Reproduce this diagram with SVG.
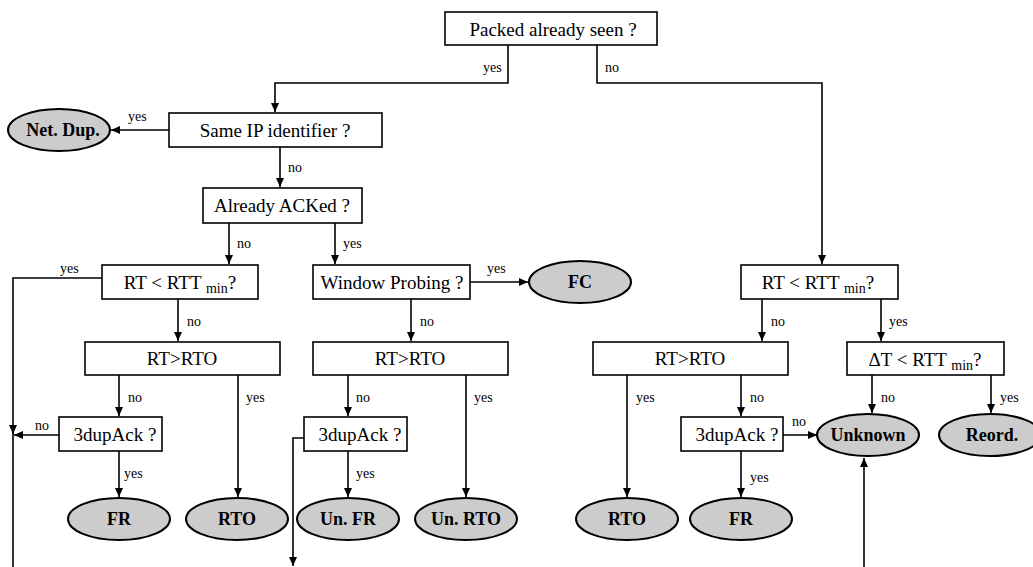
<svg xmlns="http://www.w3.org/2000/svg" width="1033" height="567" viewBox="0 0 1033 567">
<style>
.box{fill:#fff;stroke:#000;stroke-width:1.6}
.term{fill:#cccccc;stroke:#000;stroke-width:2}
.bt{font-family:"Liberation Serif",serif;font-size:19px;text-anchor:middle}
.tt{font-family:"Liberation Serif",serif;font-size:18px;font-weight:bold;text-anchor:middle}
.lbl{font-family:"Liberation Serif",serif;font-size:14px}
.c{fill:none;stroke:#000;stroke-width:1.6}
</style>
<defs>
<marker id="ah" markerUnits="userSpaceOnUse" markerWidth="10" markerHeight="8" refX="9" refY="4" orient="auto">
<path d="M0,0 L9,4 L0,8 z" fill="#000"/>
</marker>
</defs>
<rect width="1033" height="567" fill="#fff"/>
<g id="connectors">
<polyline class="c" points="508,45 508,83 275,83 275,112" marker-end="url(#ah)"/>
<polyline class="c" points="597,45 597,83 822,83 822,264" marker-end="url(#ah)"/>
<line class="c" x1="169" y1="130" x2="111" y2="130" marker-end="url(#ah)"/>
<line class="c" x1="280" y1="147" x2="280" y2="187" marker-end="url(#ah)"/>
<line class="c" x1="229" y1="223" x2="229" y2="264" marker-end="url(#ah)"/>
<line class="c" x1="335" y1="223" x2="335" y2="264" marker-end="url(#ah)"/>
<polyline class="c" points="102,278 13,278 13,434" marker-end="url(#ah)"/>
<line class="c" x1="13" y1="432" x2="13" y2="567"/>
<line class="c" x1="178" y1="299" x2="178" y2="341" marker-end="url(#ah)"/>
<line class="c" x1="119" y1="375" x2="119" y2="416" marker-end="url(#ah)"/>
<line class="c" x1="238" y1="375" x2="238" y2="497" marker-end="url(#ah)"/>
<line class="c" x1="59" y1="435" x2="14" y2="435" marker-end="url(#ah)"/>
<line class="c" x1="119" y1="451" x2="119" y2="497" marker-end="url(#ah)"/>
<line class="c" x1="470" y1="282" x2="528" y2="282" marker-end="url(#ah)"/>
<line class="c" x1="411" y1="299" x2="411" y2="341" marker-end="url(#ah)"/>
<line class="c" x1="348" y1="375" x2="348" y2="416" marker-end="url(#ah)"/>
<line class="c" x1="466" y1="375" x2="466" y2="497" marker-end="url(#ah)"/>
<line class="c" x1="348" y1="451" x2="348" y2="497" marker-end="url(#ah)"/>
<polyline class="c" points="304,438 293,438 293,566" marker-end="url(#ah)"/>
<line class="c" x1="762" y1="299" x2="762" y2="341" marker-end="url(#ah)"/>
<line class="c" x1="881" y1="299" x2="881" y2="341" marker-end="url(#ah)"/>
<line class="c" x1="627" y1="375" x2="627" y2="497" marker-end="url(#ah)"/>
<line class="c" x1="741" y1="375" x2="741" y2="416" marker-end="url(#ah)"/>
<line class="c" x1="783" y1="435" x2="817" y2="435" marker-end="url(#ah)"/>
<line class="c" x1="741" y1="451" x2="741" y2="497" marker-end="url(#ah)"/>
<line class="c" x1="872" y1="375" x2="872" y2="413" marker-end="url(#ah)"/>
<line class="c" x1="991" y1="375" x2="991" y2="413" marker-end="url(#ah)"/>
<line class="c" x1="864" y1="567" x2="864" y2="458" marker-end="url(#ah)"/>
<text class="lbl" x="483" y="72">yes</text>
<text class="lbl" x="605" y="72">no</text>
<text class="lbl" x="128" y="121">yes</text>
<text class="lbl" x="288" y="172">no</text>
<text class="lbl" x="237" y="248">no</text>
<text class="lbl" x="343" y="248">yes</text>
<text class="lbl" x="60" y="273">yes</text>
<text class="lbl" x="187" y="326">no</text>
<text class="lbl" x="128" y="402">no</text>
<text class="lbl" x="246" y="402">yes</text>
<text class="lbl" x="35" y="430">no</text>
<text class="lbl" x="124" y="478">yes</text>
<text class="lbl" x="487" y="273">yes</text>
<text class="lbl" x="420" y="326">no</text>
<text class="lbl" x="356" y="402">no</text>
<text class="lbl" x="474" y="402">yes</text>
<text class="lbl" x="356" y="478">yes</text>
<text class="lbl" x="771" y="326">no</text>
<text class="lbl" x="889" y="326">yes</text>
<text class="lbl" x="636" y="402">yes</text>
<text class="lbl" x="750" y="402">no</text>
<text class="lbl" x="792" y="426">no</text>
<text class="lbl" x="750" y="482">yes</text>
<text class="lbl" x="881" y="402">no</text>
<text class="lbl" x="1000" y="402">yes</text>
</g>
<g id="n_seen"><rect class="box" x="445" y="12" width="212" height="33"/><text class="bt" x="553" y="36">Packed already seen ?</text></g>
<g id="n_sameip"><rect class="box" x="169" y="113" width="213" height="34"/><text class="bt" x="275" y="137">Same IP identifier ?</text></g>
<g id="n_netdup"><ellipse class="term" cx="59" cy="130" rx="51" ry="21"/><text class="tt" x="63" y="136">Net. Dup.</text></g>
<g id="n_acked"><rect class="box" x="203" y="188" width="159" height="35"/><text class="bt" x="282" y="212">Already ACKed ?</text></g>
<g id="n_rtt1"><rect class="box" x="102" y="265" width="156" height="34"/><text class="bt" x="180" y="289">RT &lt; RTT <tspan font-size="14" dy="4">min</tspan><tspan dy="-4">?</tspan></text></g>
<g id="n_wp"><rect class="box" x="313" y="265" width="157" height="34"/><text class="bt" x="392" y="289">Window Probing ?</text></g>
<g id="n_fc"><ellipse class="term" cx="580" cy="282" rx="51" ry="21"/><text class="tt" x="580" y="288">FC</text></g>
<g id="n_rto1"><rect class="box" x="85" y="342" width="195" height="33"/><text class="bt" x="182" y="365">RT&gt;RTO</text></g>
<g id="n_rto2"><rect class="box" x="313" y="342" width="195" height="33"/><text class="bt" x="410" y="365">RT&gt;RTO</text></g>
<g id="n_dup1"><rect class="box" x="59" y="417" width="103" height="34"/><text class="bt" x="115" y="441">3dupAck ?</text></g>
<g id="n_dup2"><rect class="box" x="304" y="417" width="103" height="34"/><text class="bt" x="360" y="441">3dupAck ?</text></g>
<g id="n_fr1"><ellipse class="term" cx="119" cy="519" rx="51" ry="21"/><text class="tt" x="119" y="525">FR</text></g>
<g id="n_rtoA"><ellipse class="term" cx="237" cy="519" rx="51" ry="21"/><text class="tt" x="237" y="525">RTO</text></g>
<g id="n_unfr"><ellipse class="term" cx="348" cy="519" rx="51" ry="21"/><text class="tt" x="348" y="525">Un. FR</text></g>
<g id="n_unrto"><ellipse class="term" cx="466" cy="519" rx="51" ry="21"/><text class="tt" x="466" y="525">Un. RTO</text></g>
<g id="n_rtt2"><rect class="box" x="741" y="265" width="157" height="34"/><text class="bt" x="818" y="289">RT &lt; RTT <tspan font-size="14" dy="4">min</tspan><tspan dy="-4">?</tspan></text></g>
<g id="n_rto3"><rect class="box" x="593" y="342" width="195" height="33"/><text class="bt" x="690" y="365">RT&gt;RTO</text></g>
<g id="n_dt"><rect class="box" x="847" y="342" width="157" height="33"/><text class="bt" x="925" y="366">ΔT &lt; RTT <tspan font-size="14" dy="4">min</tspan><tspan dy="-4">?</tspan></text></g>
<g id="n_dup3"><rect class="box" x="681" y="417" width="102" height="34"/><text class="bt" x="737" y="441">3dupAck ?</text></g>
<g id="n_unknown"><ellipse class="term" cx="868" cy="435" rx="51" ry="21"/><text class="tt" x="868" y="441">Unknown</text></g>
<g id="n_reord"><ellipse class="term" cx="990" cy="435" rx="51" ry="21"/><text class="tt" x="992" y="441">Reord.</text></g>
<g id="n_rtoB"><ellipse class="term" cx="627" cy="519" rx="51" ry="21"/><text class="tt" x="627" y="525">RTO</text></g>
<g id="n_fr2"><ellipse class="term" cx="741" cy="519" rx="51" ry="21"/><text class="tt" x="741" y="525">FR</text></g>
</svg>
